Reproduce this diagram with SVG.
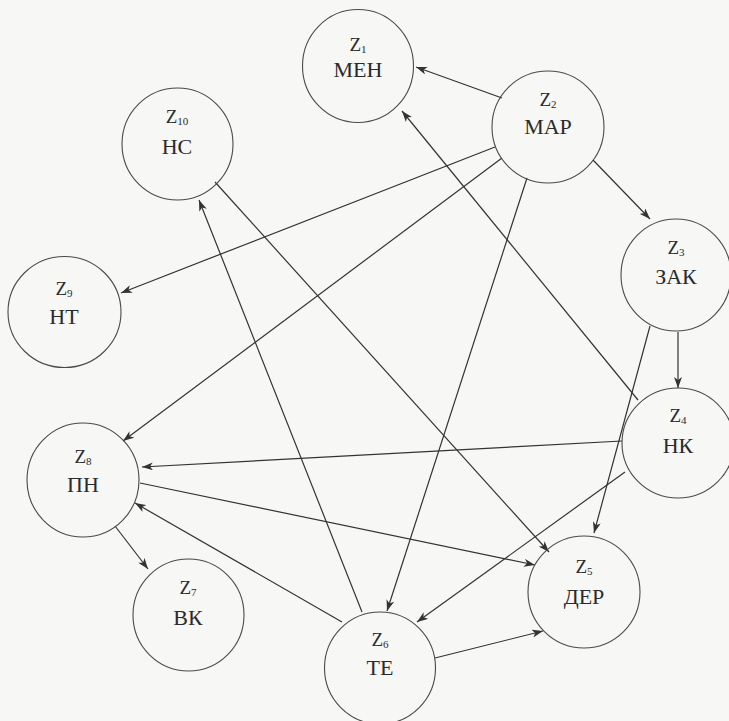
<svg xmlns="http://www.w3.org/2000/svg" width="729" height="721" viewBox="0 0 729 721">
<style>
.n{fill:none;stroke:#4a4a4a;stroke-width:1.1}
.t{font-family:"Liberation Serif","DejaVu Serif","Times New Roman",serif;font-size:22px;fill:#2a2a2a;text-anchor:middle}
.z{font-family:"Liberation Serif","DejaVu Serif","Times New Roman",serif;font-size:19px;fill:#2a2a2a;text-anchor:middle}
.s{font-size:11px}
.c line{stroke:#333;stroke-width:1.2;marker-end:url(#a)}
</style>
<defs>
<marker id="a" markerUnits="userSpaceOnUse" markerWidth="12" markerHeight="8" refX="11" refY="4" orient="auto">
<path d="M0,0 L11,4 L0,8 L3,4 z" fill="#333"/>
</marker>
</defs>
<rect width="729" height="721" fill="#f7f7f5"/>
<g id="connectors" class="c">
<line x1="502" y1="98" x2="416" y2="67"/>
<line x1="638" y1="400" x2="402" y2="111"/>
<line x1="593" y1="160" x2="650" y2="219"/>
<line x1="678" y1="332" x2="678" y2="388"/>
<line x1="495" y1="147" x2="121" y2="293"/>
<line x1="502" y1="158" x2="123" y2="441"/>
<line x1="527" y1="178" x2="387" y2="611"/>
<line x1="362" y1="612" x2="199" y2="200"/>
<line x1="215" y1="182" x2="549" y2="552"/>
<line x1="140" y1="483" x2="535" y2="565"/>
<line x1="342" y1="622" x2="135" y2="503"/>
<line x1="115" y1="526" x2="148" y2="569"/>
<line x1="435" y1="658" x2="543" y2="631"/>
<line x1="622" y1="441" x2="142" y2="467"/>
<line x1="625" y1="472" x2="417" y2="622"/>
<line x1="650" y1="326" x2="594" y2="533"/>
</g>
<g id="z1"><ellipse class="n" cx="358" cy="66" rx="55.5" ry="56.5"/><text class="z" x="358" y="51">Z<tspan class="s" dy="2">1</tspan></text><text class="t" x="358" y="77">МЕН</text></g>
<g id="z2"><ellipse class="n" cx="548" cy="127" rx="56" ry="56"/><text class="z" x="548" y="106">Z<tspan class="s" dy="2">2</tspan></text><text class="t" x="548" y="134">МАР</text></g>
<g id="z3"><ellipse class="n" cx="676" cy="275" rx="55" ry="56"/><text class="z" x="676" y="254">Z<tspan class="s" dy="2">3</tspan></text><text class="t" x="676" y="284">ЗАК</text></g>
<g id="z4"><ellipse class="n" cx="678" cy="443" rx="56" ry="55"/><text class="z" x="678" y="422">Z<tspan class="s" dy="2">4</tspan></text><text class="t" x="678" y="453">НК</text></g>
<g id="z5"><ellipse class="n" cx="584" cy="592" rx="56" ry="56"/><text class="z" x="584" y="573">Z<tspan class="s" dy="2">5</tspan></text><text class="t" x="584" y="604">ДЕР</text></g>
<g id="z6"><ellipse class="n" cx="380" cy="668" rx="55.5" ry="56"/><text class="z" x="380" y="646">Z<tspan class="s" dy="2">6</tspan></text><text class="t" x="380" y="675">ТЕ</text></g>
<g id="z7"><ellipse class="n" cx="188.5" cy="615" rx="55.5" ry="56"/><text class="z" x="188" y="594">Z<tspan class="s" dy="2">7</tspan></text><text class="t" x="188" y="625">ВК</text></g>
<g id="z8"><ellipse class="n" cx="83" cy="480" rx="56" ry="57"/><text class="z" x="83" y="463">Z<tspan class="s" dy="2">8</tspan></text><text class="t" x="83" y="492">ПН</text></g>
<g id="z9"><ellipse class="n" cx="64.5" cy="312" rx="56.5" ry="55.5"/><text class="z" x="64" y="295">Z<tspan class="s" dy="2">9</tspan></text><text class="t" x="64" y="324">НТ</text></g>
<g id="z10"><ellipse class="n" cx="177.5" cy="144" rx="55.5" ry="56"/><text class="z" x="177" y="123">Z<tspan class="s" dy="2">10</tspan></text><text class="t" x="177" y="154">НС</text></g>
</svg>
